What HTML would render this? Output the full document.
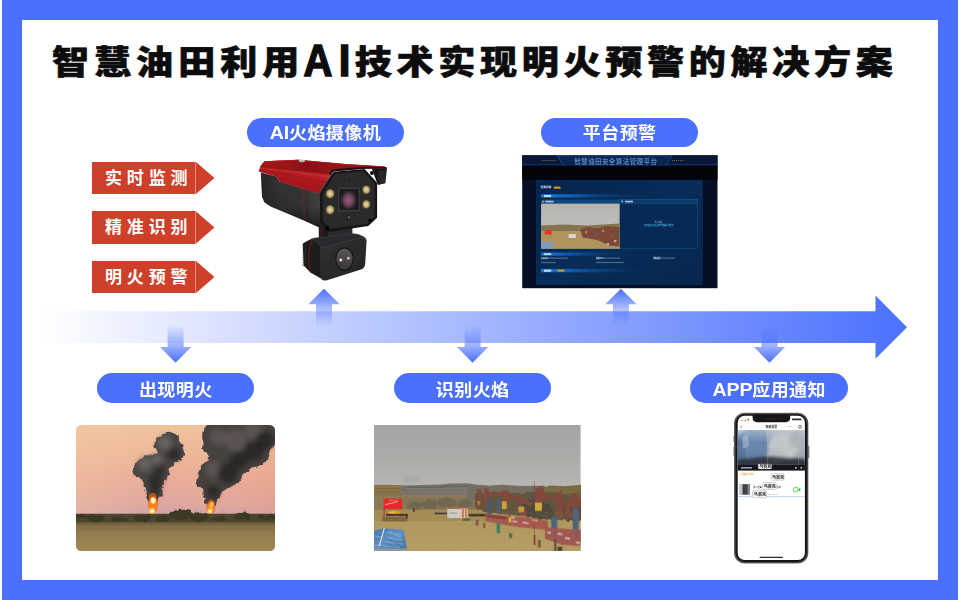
<!DOCTYPE html>
<html lang="zh-CN">
<head>
<meta charset="utf-8">
<title>智慧油田利用AI技术实现明火预警的解决方案</title>
<style>
html,body{margin:0;padding:0;}
body{width:960px;height:600px;position:relative;overflow:hidden;background:#fff;font-family:"Liberation Sans","Noto Sans CJK SC",sans-serif;}
.frame{position:absolute;left:2px;top:0;width:956px;height:600px;background:#4b70fe;}
.inner{position:absolute;left:21.5px;top:20px;width:916.5px;height:560px;background:#fff;}
svg{position:absolute;display:block;overflow:hidden;}
.title{left:0;top:0;}
.title text{font-family:"Liberation Sans","Noto Sans CJK SC",sans-serif;font-weight:900;font-size:36px;fill:#0c0c0c;stroke:#0c0c0c;stroke-width:0.7px;stroke-linejoin:miter;}
.title text.lat{font-size:46.5px;font-weight:700;stroke:#0c0c0c;stroke-width:1.6px;}
.pill{position:absolute;width:157.5px;height:29.5px;border-radius:15px;background:#4b70fe;color:#fff;font-weight:700;font-size:18px;line-height:29.5px;text-align:center;white-space:nowrap;letter-spacing:0.4px;}
.pill span{display:inline-block;transform:scaleY(0.95);position:relative;top:1px;padding-left:0.4px;}
.pill b{font-size:19.6px;letter-spacing:-0.2px;line-height:0;}
.pill.lo span{top:2.5px;}
.tag{position:absolute;left:92.3px;width:122.2px;height:32.5px;}
.tag .b{position:absolute;left:0;top:0;width:103.5px;height:32.5px;background:#cf402a;}
.tag i{position:absolute;left:103.1px;top:0;width:0.7px;height:32.5px;background:rgba(255,255,255,0.42);}
.tag .a{position:absolute;left:103.4px;top:0;width:18.8px;height:32.5px;background:#cf402a;clip-path:polygon(0 0,100% 50%,0 100%);}
.tag span{position:absolute;left:12.6px;top:1.1px;line-height:32.5px;font-size:17px;font-weight:700;color:#fff;letter-spacing:4.9px;white-space:nowrap;}
</style>
</head>
<body>
<div class="frame"></div>
<div class="inner"></div>

<!-- TITLE -->
<svg class="title" width="960" height="100" viewBox="0 0 960 100">
<g transform="scale(1.03,0.93)">
<text y="79.57" x="50.49 91.32 132.16 172.99 213.83 254.66">智慧油田利用</text>
<text y="79.57" x="344.47 385.00 425.53 466.07 506.60 547.14 587.67 628.20 668.74 709.27 749.81 790.34 830.87">技术实现明火预警的解决方案</text>
</g>
<text class="lat" transform="translate(303.6,76.2) scale(0.86,0.97)">A</text>
<text class="lat" transform="translate(338.8,76.2) scale(0.9,0.97)">I</text>
</svg>

<!-- TAGS -->
<div class="tag" style="top:161.8px"><div class="b"></div><div class="a"></div><i></i><span>实时监测</span></div>
<div class="tag" style="top:211.2px"><div class="b"></div><div class="a"></div><i></i><span>精准识别</span></div>
<div class="tag" style="top:260.7px"><div class="b"></div><div class="a"></div><i></i><span>明火预警</span></div>

<!-- PILLS -->
<div class="pill" style="left:246.5px;top:117.7px"><span><b>AI</b>火焰摄像机</span></div>
<div class="pill" style="left:540.7px;top:117.7px"><span>平台预警</span></div>
<div class="pill lo" style="left:96.8px;top:373.4px"><span>出现明火</span></div>
<div class="pill lo" style="left:393.7px;top:373.4px"><span>识别火焰</span></div>
<div class="pill lo" style="left:690.3px;top:373.4px"><span><b>APP</b>应用通知</span></div>

<!-- BIG ARROW -->
<svg id="arrow" style="left:0;top:280px" width="960" height="90" viewBox="0 280 960 90">
<defs>
<linearGradient id="gband" x1="40" y1="0" x2="907" y2="0" gradientUnits="userSpaceOnUse">
<stop offset="0" stop-color="#4b70fe" stop-opacity="0"/>
<stop offset="1" stop-color="#4b70fe" stop-opacity="1"/>
</linearGradient>
<linearGradient id="gup" x1="0" y1="288.7" x2="0" y2="326" gradientUnits="userSpaceOnUse">
<stop offset="0" stop-color="#4b70fe" stop-opacity="1"/>
<stop offset="1" stop-color="#4b70fe" stop-opacity="0"/>
</linearGradient>
<linearGradient id="gdn" x1="0" y1="362.7" x2="0" y2="325" gradientUnits="userSpaceOnUse">
<stop offset="0" stop-color="#4b70fe" stop-opacity="1"/>
<stop offset="1" stop-color="#4b70fe" stop-opacity="0"/>
</linearGradient>
</defs>
<path d="M40 311.3 H875.5 V295.5 L907 327.2 L875.5 358.8 V343 H40 Z" fill="url(#gband)"/>
<path id="up" d="M324 288.7 L339.8 304.3 H332 V326 H316 V304.3 H308.2 Z" fill="url(#gup)"/>
<path d="M620.9 288.7 L636.7 304.3 H628.9 V326 H612.9 V304.3 H605.1 Z" fill="url(#gup)"/>
<path d="M175.6 362.7 L191.2 347 H183.6 V325 H167.6 V347 H160 Z" fill="url(#gdn)"/>
<path d="M472.6 362.7 L488.2 347 H480.6 V325 H464.6 V347 H457 Z" fill="url(#gdn)"/>
<path d="M769.5 362.7 L785.1 347 H777.5 V325 H761.5 V347 H753.9 Z" fill="url(#gdn)"/>
</svg>


<!-- cam.py -->
<svg id="camera" style="left:250px;top:150px" width="150" height="140" viewBox="250 150 150 140">
<defs>
<linearGradient id="credtop" x1="260" y1="160" x2="385" y2="175" gradientUnits="userSpaceOnUse">
<stop offset="0" stop-color="#a8171b"/><stop offset="0.35" stop-color="#8c1115"/><stop offset="1" stop-color="#9c1418"/>
</linearGradient>
<linearGradient id="credside" x1="290" y1="166" x2="284" y2="192" gradientUnits="userSpaceOnUse">
<stop offset="0" stop-color="#c52a2e"/><stop offset="0.3" stop-color="#b01b1f"/><stop offset="1" stop-color="#98141a"/>
</linearGradient>
<linearGradient id="cbody" x1="260" y1="0" x2="322" y2="0" gradientUnits="userSpaceOnUse">
<stop offset="0" stop-color="#272728"/><stop offset="0.3" stop-color="#323233"/><stop offset="0.78" stop-color="#363637"/><stop offset="0.8" stop-color="#3e3e3f"/><stop offset="1" stop-color="#434344"/>
</linearGradient>
<linearGradient id="cbodyv" x1="0" y1="175" x2="0" y2="228" gradientUnits="userSpaceOnUse">
<stop offset="0" stop-color="#000" stop-opacity="0"/><stop offset="0.6" stop-color="#000" stop-opacity="0.1"/><stop offset="1" stop-color="#000" stop-opacity="0.55"/>
</linearGradient>
<radialGradient id="clens" cx="0.5" cy="0.52" r="0.55">
<stop offset="0" stop-color="#94607f"/><stop offset="0.45" stop-color="#734460"/><stop offset="0.8" stop-color="#35252f"/><stop offset="1" stop-color="#1b171d"/>
</radialGradient>
<radialGradient id="cled" cx="0.5" cy="0.5" r="0.5">
<stop offset="0" stop-color="#f1e6b8"/><stop offset="0.4" stop-color="#d2be86"/><stop offset="0.75" stop-color="#b39f6a"/><stop offset="1" stop-color="#5e5236"/>
</radialGradient>
<linearGradient id="clow" x1="0" y1="0" x2="0" y2="1">
<stop offset="0" stop-color="#59595b"/><stop offset="1" stop-color="#37373a"/>
</linearGradient>
<linearGradient id="cmodf" x1="0" y1="0" x2="1" y2="1">
<stop offset="0" stop-color="#303031"/><stop offset="1" stop-color="#252526"/>
</linearGradient>
<filter id="cblur" x="-5%" y="-5%" width="110%" height="110%"><feGaussianBlur stdDeviation="0.4"/></filter>
</defs>
<g filter="url(#cblur)">
<polygon points="318.8,226 352.2,225.5 352.2,240 318.8,241" fill="#1b1b1c"/>
<polygon points="328,227 352.2,226.5 352.2,238.5 328,240.5" fill="#2a2a2b"/>
<line x1="321.2" y1="229" x2="321.5" y2="239" stroke="#a5161a" stroke-width="0.5"/>
<polygon points="302.8,243.5 308.5,240.5 310.5,272.5 303.6,265.5" fill="#151516"/>
<line x1="302.4" y1="244.5" x2="307" y2="246.1" stroke="#404041" stroke-width="0.7"/>
<line x1="302.4" y1="247.1" x2="307" y2="248.7" stroke="#404041" stroke-width="0.7"/>
<line x1="302.4" y1="249.6" x2="307" y2="251.2" stroke="#404041" stroke-width="0.7"/>
<line x1="302.4" y1="252.2" x2="307" y2="253.8" stroke="#404041" stroke-width="0.7"/>
<line x1="302.4" y1="254.7" x2="307" y2="256.3" stroke="#404041" stroke-width="0.7"/>
<line x1="302.4" y1="257.2" x2="307" y2="258.9" stroke="#404041" stroke-width="0.7"/>
<line x1="302.4" y1="259.8" x2="307" y2="261.4" stroke="#404041" stroke-width="0.7"/>
<line x1="302.4" y1="262.4" x2="307" y2="264.0" stroke="#404041" stroke-width="0.7"/>
<line x1="302.4" y1="264.9" x2="307" y2="266.5" stroke="#404041" stroke-width="0.7"/>
<polygon points="306.5,241.5 312.5,238.3 321.5,246.5 321,278.5 310,272.3 307.8,258" fill="#1c1c1d"/>
<path d="M312.5 238.3 L351 233.6 Q360 233.4 365.8 238.6 L323 248 L320 247 Z" fill="#2c2c2d"/>
<path d="M312.8 238.4 L351 233.8 Q359 233.6 364 237" stroke="#3c3c3d" stroke-width="0.5" fill="none"/>
<path d="M319.8 252 Q319.8 247.6 323.5 246.7 L361.5 237.3 Q366.4 236.4 366.6 241 L365.2 263.5 Q365 268.2 361 269.5 L327 280.3 Q321 281.8 320.5 276 Z" fill="url(#cmodf)"/>
<path d="M320.3 251 Q320.4 248 323.6 247.2 L361.5 237.8 Q364.6 237.2 365.6 239" stroke="#444445" stroke-width="0.5" fill="none"/>
<path d="M312.6 239 Q308.4 248 308.6 258 Q308.8 266 310.6 272" stroke="#b3171b" stroke-width="0.6" fill="none"/>
<ellipse cx="344.5" cy="259.0" rx="9.1" ry="11.5" fill="#0e0e0f"/>
<ellipse cx="344.5" cy="259.0" rx="8.2" ry="10.6" fill="url(#clow)"/>
<circle cx="340.8" cy="260.0" r="1.8" fill="#cfcfb4" opacity="0.6"/>
<circle cx="340.8" cy="260.0" r="1.0" fill="#fffff0"/>
<circle cx="348.4" cy="258.3" r="1.8" fill="#bf9e9a" opacity="0.6"/>
<circle cx="348.4" cy="258.3" r="1.0" fill="#f3d2cc"/>
<polygon points="260.8,172.5 276.5,176.5 279.5,181.5 318.0,193.0 331.0,174.0 345.0,172.0 350.0,228.5 321.5,228.5 304.5,220.8 285.0,212.5 270.5,206.5 264.5,202.5 262.0,197.0" fill="url(#cbody)"/>
<polygon points="260.8,172.5 276.5,176.5 279.5,181.5 318.0,193.0 331.0,174.0 345.0,172.0 350.0,228.5 321.5,228.5 304.5,220.8 285.0,212.5 270.5,206.5 264.5,202.5 262.0,197.0" fill="url(#cbodyv)"/>
<path d="M303.6 189 L304.3 220.6" stroke="#a01519" stroke-width="0.55"/>
<polygon points="371.7,168.3 387.0,168.1 385.3,183.3 377.9,185.1 373.7,173.7" fill="#19191a"/>
<polygon points="377.7,171.0 385.9,169.9 384.9,182.3 379.3,183.7" fill="#262627"/>
<polygon points="333.7,171.7 364.6,168.9 377.1,182.7 377.1,217.7 368.3,225.9 328.3,231.9 320.1,221.9 320.1,193.7" fill="#161617"/>
<polygon points="335.0,173.9 363.3,171.3 374.7,183.8 374.7,216.6 367.3,223.5 329.7,229.1 322.7,220.9 322.7,194.5" fill="#2b2b2c"/>
<polygon points="258.6,171.6 260.5,166.0 264.5,161.3 298.0,159.8 345.0,164.0 384.5,166.4 387.2,168.6 372.5,168.4 364.3,168.6 333.7,171.2 331.0,174.2 318.3,193.4 279.6,181.8 276.6,176.7" fill="url(#credside)"/>
<polygon points="260.5,166.0 264.5,161.3 298.0,159.8 345.0,164.0 384.5,166.4 387.2,168.6 372.5,168.4 364.3,168.6 333.7,171.2 330.6,174.2 300.0,170.6" fill="url(#credtop)"/>
<polygon points="330.2,175 333.4,171.4 364.3,168.8 387.2,168.8 386.6,166.9 364.3,166.7 332.6,169.2 328.8,173.6" fill="#151213" opacity="0.9"/>
<path d="M260.6 166.2 L300 170.8 L330.4 174.6" stroke="#6e0c10" stroke-width="0.7" fill="none" opacity="0.8"/>
<path d="M260 168 L300 173 L329.4 176.6" stroke="#d23a3e" stroke-width="0.7" fill="none" opacity="0.7"/>
<path d="M259.4 170 L290 175.4 L326 182.4" stroke="#8a1116" stroke-width="0.6" fill="none" opacity="0.6"/>
<path d="M264.5 161.6 L298 160.2 L345 164.4 L384 166.8" stroke="#c0282c" stroke-width="0.6" fill="none" opacity="0.7"/>
<ellipse cx="301.8" cy="161.1" rx="3.4" ry="1.4" fill="#9a9a9a"/>
<ellipse cx="301.8" cy="160.7" rx="2.8" ry="0.9" fill="#c4c4c4"/>
<rect x="337.9" y="187.4" width="22.1" height="24.1" rx="1" fill="#3a3a3c"/>
<rect x="339.4" y="188.9" width="19.3" height="21.2" rx="0.8" fill="#1c1a20"/>
<ellipse cx="348.6" cy="199.7" rx="8.2" ry="9.6" fill="url(#clens)"/>
<ellipse cx="330.1" cy="193.7" rx="4.8" ry="5.2" fill="#3e3828"/>
<ellipse cx="330.1" cy="193.7" rx="4.2" ry="4.6" fill="url(#cled)"/>
<ellipse cx="330.1" cy="209.7" rx="4.8" ry="5.2" fill="#3e3828"/>
<ellipse cx="330.1" cy="209.7" rx="4.2" ry="4.6" fill="url(#cled)"/>
<ellipse cx="366.3" cy="189.7" rx="4.4" ry="4.8" fill="#3e3828"/>
<ellipse cx="366.3" cy="189.7" rx="3.8" ry="4.2" fill="url(#cled)"/>
<ellipse cx="366.3" cy="204.3" rx="4.4" ry="4.8" fill="#3e3828"/>
<ellipse cx="366.3" cy="204.3" rx="3.8" ry="4.2" fill="url(#cled)"/>
<circle cx="348.6" cy="217.4" r="2.3" fill="#111"/>
<circle cx="348.9" cy="217.2" r="1.5" fill="#5a5a5c"/>
<circle cx="349.4" cy="180.7" r="0.7" fill="#050505"/>
<circle cx="327.3" cy="227.7" r="1.9" fill="#060606"/>
<circle cx="370.3" cy="220.3" r="1.9" fill="#060606"/>
<circle cx="371.9" cy="173.0" r="1.9" fill="#060606"/>
<circle cx="327.1" cy="228.4" r="1.9" fill="#060606"/>
</g></svg>

<!-- fire.py -->
<svg id="firephoto" style="left:75.9px;top:425.2px" width="199" height="126" viewBox="45 42 823 521" preserveAspectRatio="none">
<defs>
<clipPath id="fclip"><rect x="45" y="42" width="823" height="521" rx="22" ry="22"/></clipPath>
<linearGradient id="fsky" x1="0" y1="42" x2="0" y2="415" gradientUnits="userSpaceOnUse">
<stop offset="0" stop-color="#efc39c"/><stop offset="0.3" stop-color="#eeb898"/><stop offset="0.62" stop-color="#e9ab98"/><stop offset="0.85" stop-color="#dfa6a0"/><stop offset="1" stop-color="#d2a2a8"/>
</linearGradient>
<linearGradient id="fskyr" x1="45" y1="0" x2="868" y2="0" gradientUnits="userSpaceOnUse">
<stop offset="0" stop-color="#f3cfa8" stop-opacity="0.35"/><stop offset="0.45" stop-color="#f3cfa8" stop-opacity="0"/><stop offset="1" stop-color="#e89a80" stop-opacity="0.3"/>
</linearGradient>
<linearGradient id="fgnd" x1="0" y1="440" x2="0" y2="563" gradientUnits="userSpaceOnUse">
<stop offset="0" stop-color="#776540"/><stop offset="0.35" stop-color="#8f7a4c"/><stop offset="1" stop-color="#a08757"/>
</linearGradient>
<radialGradient id="ffire" cx="0.5" cy="0.5" r="0.5">
<stop offset="0" stop-color="#ffe27a"/><stop offset="0.4" stop-color="#ffa21f"/><stop offset="0.8" stop-color="#ef6a14"/><stop offset="1" stop-color="#c9481a" stop-opacity="0.5"/>
</radialGradient>
<filter id="fb2" x="-10%" y="-10%" width="120%" height="120%"><feGaussianBlur stdDeviation="2.4"/></filter>
<filter id="fb3" x="-20%" y="-20%" width="140%" height="140%"><feGaussianBlur stdDeviation="14"/></filter>
<filter id="fsm" x="-10%" y="-10%" width="120%" height="120%">
<feTurbulence type="fractalNoise" baseFrequency="0.03" numOctaves="3" seed="11" result="n"/>
<feDisplacementMap in="SourceGraphic" in2="n" scale="26" xChannelSelector="R" yChannelSelector="G"/>
<feGaussianBlur stdDeviation="3.2"/>
</filter>
<filter id="ftree" x="-5%" y="-30%" width="110%" height="160%">
<feTurbulence type="fractalNoise" baseFrequency="0.05" numOctaves="2" seed="3" result="n"/>
<feDisplacementMap in="SourceGraphic" in2="n" scale="18" xChannelSelector="R" yChannelSelector="G"/>
<feGaussianBlur stdDeviation="2"/>
</filter>
</defs>
<g clip-path="url(#fclip)">
<rect x="45" y="42" width="823" height="521" fill="url(#fsky)"/>
<rect x="45" y="42" width="823" height="400" fill="url(#fskyr)"/>
<g transform="translate(248.2,20.7) scale(0.7586)">
<g filter="url(#fsm)">
<ellipse cx="242" cy="150" rx="70" ry="70" fill="#4b4644" />
<ellipse cx="205" cy="130" rx="46" ry="46" fill="#4b4644" />
<ellipse cx="272" cy="180" rx="50" ry="50" fill="#4b4644" />
<ellipse cx="215" cy="215" rx="56" ry="56" fill="#4b4644" />
<ellipse cx="122" cy="268" rx="70" ry="70" fill="#4b4644" />
<ellipse cx="165" cy="240" rx="56" ry="56" fill="#4b4644" />
<ellipse cx="88" cy="280" rx="42" ry="42" fill="#4b4644" />
<ellipse cx="152" cy="325" rx="60" ry="60" fill="#4b4644" />
<ellipse cx="190" cy="290" rx="50" ry="50" fill="#4b4644" />
<ellipse cx="160" cy="385" rx="48" ry="48" fill="#4b4644" />
<ellipse cx="152" cy="420" rx="34" ry="34" fill="#4b4644" />
<ellipse cx="235" cy="110" rx="45" ry="45" fill="#4b4644" />
<ellipse cx="505" cy="90" rx="85" ry="85" fill="#474240" />
<ellipse cx="600" cy="70" rx="105" ry="105" fill="#474240" />
<ellipse cx="720" cy="90" rx="100" ry="100" fill="#474240" />
<ellipse cx="790" cy="70" rx="65" ry="65" fill="#474240" />
<ellipse cx="705" cy="175" rx="82" ry="82" fill="#474240" />
<ellipse cx="625" cy="200" rx="92" ry="92" fill="#474240" />
<ellipse cx="548" cy="210" rx="92" ry="92" fill="#474240" />
<ellipse cx="482" cy="140" rx="62" ry="62" fill="#474240" />
<ellipse cx="502" cy="300" rx="96" ry="96" fill="#474240" />
<ellipse cx="440" cy="330" rx="52" ry="52" fill="#474240" />
<ellipse cx="568" cy="290" rx="72" ry="72" fill="#474240" />
<ellipse cx="472" cy="392" rx="52" ry="52" fill="#474240" />
<ellipse cx="468" cy="440" rx="34" ry="34" fill="#474240" />
</g>
<g filter="url(#fb3)">
<ellipse cx="215" cy="125" rx="38" ry="38" fill="#726c68" opacity="0.8"/>
<ellipse cx="105" cy="240" rx="36" ry="36" fill="#726c68" opacity="0.8"/>
<ellipse cx="170" cy="215" rx="30" ry="30" fill="#726c68" opacity="0.8"/>
<ellipse cx="505" cy="95" rx="45" ry="45" fill="#635d5a" opacity="0.7"/>
<ellipse cx="600" cy="110" rx="60" ry="60" fill="#635d5a" opacity="0.7"/>
<ellipse cx="480" cy="270" rx="45" ry="45" fill="#635d5a" opacity="0.7"/>
<ellipse cx="700" cy="60" rx="50" ry="50" fill="#635d5a" opacity="0.7"/>
<ellipse cx="265" cy="185" rx="38" ry="38" fill="#262323" opacity="0.75"/>
<ellipse cx="165" cy="330" rx="40" ry="40" fill="#262323" opacity="0.75"/>
<ellipse cx="190" cy="270" rx="30" ry="30" fill="#262323" opacity="0.75"/>
<ellipse cx="160" cy="385" rx="30" ry="30" fill="#262323" opacity="0.75"/>
<ellipse cx="700" cy="170" rx="55" ry="55" fill="#242121" opacity="0.8"/>
<ellipse cx="560" cy="290" rx="55" ry="55" fill="#242121" opacity="0.8"/>
<ellipse cx="480" cy="390" rx="35" ry="35" fill="#242121" opacity="0.8"/>
<ellipse cx="760" cy="110" rx="50" ry="50" fill="#242121" opacity="0.8"/>
<ellipse cx="620" cy="220" rx="50" ry="50" fill="#242121" opacity="0.8"/>
</g>
<!-- fire -->
<g filter="url(#fb2)">
<ellipse cx="150" cy="420" rx="20" ry="22" fill="#d9601a" opacity="0.75"/>
<ellipse cx="152" cy="458" rx="27" ry="48" fill="url(#ffire)"/>
<ellipse cx="140" cy="470" rx="14" ry="24" fill="#f4801c"/>
<ellipse cx="164" cy="462" rx="12" ry="22" fill="#f4801c"/>
<ellipse cx="153" cy="440" rx="14" ry="17" fill="#fff0a0"/>
<ellipse cx="153" cy="440" rx="7" ry="9" fill="#fffbe0"/>
<ellipse cx="147" cy="497" rx="17" ry="17" fill="#ffcf52"/>
<ellipse cx="147" cy="498" rx="9" ry="9" fill="#fff7cc"/>
<ellipse cx="468" cy="448" rx="14" ry="14" fill="#d05a1c" opacity="0.7"/>
<ellipse cx="466" cy="478" rx="24" ry="38" fill="url(#ffire)"/>
<ellipse cx="474" cy="458" rx="11" ry="13" fill="#ffbe3e"/>
<ellipse cx="456" cy="480" rx="10" ry="14" fill="#f98a20"/>
<ellipse cx="463" cy="498" rx="14" ry="13" fill="#ffd45e"/>
<ellipse cx="463" cy="499" rx="7" ry="7" fill="#fff3b8"/>
</g>
</g>
<!-- ground -->
<rect x="45" y="412" width="823" height="155" fill="url(#fgnd)"/>
<!-- far dark band -->
<rect x="40" y="409" width="833" height="36" fill="#4a442f" filter="url(#fb2)"/>
<!-- towers -->
<g stroke="#8d7f86" stroke-width="1.6" opacity="0.8">
<path d="M300 392v18M318 396v14M540 392v18M560 396v14M650 388v22M690 392v18M740 384v26M770 392v18M830 386v24M850 394v16M275 396v14"/>
</g>
<!-- treeline -->
<g filter="url(#ftree)" fill="#3a3727">
<ellipse cx="483" cy="412" rx="50" ry="20"/>
<ellipse cx="555" cy="422" rx="38" ry="19"/>
<ellipse cx="320" cy="428" rx="34" ry="15"/>
<ellipse cx="735" cy="420" rx="36" ry="16"/>
<ellipse cx="125" cy="428" rx="42" ry="14"/>
<ellipse cx="405" cy="430" rx="30" ry="14"/>
<ellipse cx="835" cy="424" rx="36" ry="11"/>
<ellipse cx="225" cy="430" rx="36" ry="10"/>
<ellipse cx="640" cy="430" rx="30" ry="10"/>
<ellipse cx="70" cy="420" rx="30" ry="10"/>
</g>
<rect x="45" y="444" width="823" height="12" fill="#6a5b3a" opacity="0.55" filter="url(#fb2)"/>
<rect x="45" y="470" width="823" height="6" fill="#7d6a42" opacity="0.4" filter="url(#fb2)"/>
</g>
</svg>

<!-- mid.py -->
<svg id="midphoto" style="left:374.2px;top:425.1px" width="206.6" height="126.4" viewBox="38 42 855 523" preserveAspectRatio="none">
<defs>
<linearGradient id="msky" x1="0" y1="42" x2="0" y2="300" gradientUnits="userSpaceOnUse">
<stop offset="0" stop-color="#a4a4a2"/><stop offset="0.5" stop-color="#ababa9"/><stop offset="1" stop-color="#b7b6b3"/>
</linearGradient>
<linearGradient id="mgnd" x1="0" y1="380" x2="0" y2="565" gradientUnits="userSpaceOnUse">
<stop offset="0" stop-color="#b0965b"/><stop offset="1" stop-color="#b89f66"/>
</linearGradient>
<linearGradient id="mroof" x1="0" y1="0" x2="1" y2="1">
<stop offset="0" stop-color="#3f78b6"/><stop offset="0.5" stop-color="#5b92cc"/><stop offset="1" stop-color="#3c6fa8"/>
</linearGradient>
<filter id="mb1" x="-5%" y="-5%" width="110%" height="110%"><feGaussianBlur stdDeviation="2.2"/></filter>
<filter id="mb8" x="-5%" y="-5%" width="110%" height="110%"><feGaussianBlur stdDeviation="4"/></filter>
<filter id="mr8" x="-5%" y="-5%" width="110%" height="110%">
<feTurbulence type="fractalNoise" baseFrequency="0.04" numOctaves="2" seed="7" result="n"/>
<feDisplacementMap in="SourceGraphic" in2="n" scale="30" xChannelSelector="R" yChannelSelector="G"/>
<feGaussianBlur stdDeviation="4"/>
</filter>
<filter id="mgrain" x="0" y="0" width="100%" height="100%">
<feTurbulence type="fractalNoise" baseFrequency="0.12 0.25" numOctaves="2" seed="5" result="n"/>
<feColorMatrix in="n" type="matrix" values="0 0 0 0 0.35  0 0 0 0 0.27  0 0 0 0 0.12  0.9 0.9 0 0 -0.78"/>
</filter>
</defs>
<rect x="38" y="42" width="855" height="523" fill="url(#msky)"/>
<ellipse cx="190" cy="268" rx="40" ry="16" fill="#989896" opacity="0.35" filter="url(#mb8)"/>
<!-- ground base -->
<rect x="38" y="330" width="855" height="240" fill="url(#mgnd)"/>

<!-- LEFT HALF (zoom8 coords, origin 370,480) -->
<g transform="translate(20.7,269) scale(0.5174)">
<g filter="url(#mb8)">
<polygon points="20,42 150,40 260,44 260,135 20,135" fill="#8b7449"/>
<polygon points="250,46 420,42 560,38 640,30 780,28 860,40 940,44 940,125 250,125" fill="#77716a"/>
<polygon points="20,120 940,120 940,245 20,245" fill="#8a7a59"/>
<polygon points="260,150 840,140 860,240 300,245" fill="#82755a"/>
<polygon points="20,240 940,240 940,330 20,330" fill="#a58c55"/>
<path d="M40 70h200M60 95h180M40 118h210" stroke="#6d5a38" stroke-width="7" opacity="0.6"/>
<path d="M280 70h600M330 92h520M420 112h440" stroke="#8b857c" stroke-width="6" opacity="0.6"/>
<path d="M300 60h300M560 50h300" stroke="#55504b" stroke-width="7" opacity="0.6"/>
</g>
<g filter="url(#mr8)" fill="#6e6450" opacity="0.8">
<ellipse cx="480" cy="195" rx="70" ry="40"/><ellipse cx="620" cy="185" rx="80" ry="40"/><ellipse cx="360" cy="205" rx="60" ry="30"/><ellipse cx="760" cy="190" rx="60" ry="35"/>
</g>
<g filter="url(#mb8)">
<!-- sign -->
<rect x="110" y="150" width="148" height="84" fill="#e32a27"/>
<path d="M125 200c8-16 14 6 22-8 8-14 10 10 18-4 6-10 12 8 20-6 8-12 12 10 20-4 6-10 12 6 20-8" stroke="#fbd3cf" stroke-width="7" fill="none"/>
<path d="M150 164h70" stroke="#f58f88" stroke-width="5"/>
<rect x="108" y="232" width="12" height="62" fill="#d2352c"/>
<ellipse cx="195" cy="262" rx="48" ry="16" fill="#f09a2a"/>
<ellipse cx="180" cy="262" rx="20" ry="9" fill="#f7c04a"/>
<rect x="130" y="272" width="175" height="16" fill="#3d312a"/>
<rect x="100" y="292" width="200" height="42" fill="#8a6f48"/>
<path d="M100 305h200M100 322h200" stroke="#6a5434" stroke-width="6"/>
<rect x="290" y="280" width="12" height="30" fill="#3d312a"/>
<rect x="345" y="228" width="14" height="30" fill="#4a3f38"/>
<!-- container -->
<rect x="520" y="262" width="100" height="13" fill="#3a3129"/>
<rect x="790" y="275" width="150" height="14" fill="#3a3129"/>
<rect x="620" y="226" width="162" height="80" fill="#cfd0cb"/>
<rect x="620" y="222" width="162" height="12" fill="#b86850"/>
<rect x="722" y="230" width="58" height="74" fill="#d8c9a8"/>
<rect x="740" y="232" width="10" height="70" fill="#c9503c"/>
<rect x="764" y="232" width="10" height="70" fill="#c9503c"/>
<rect x="640" y="262" width="60" height="8" fill="#9aa3b0"/>
<ellipse cx="772" cy="318" rx="34" ry="12" fill="#5c6a40"/>
<rect x="850" y="322" width="16" height="40" fill="#7a4a40"/>
<!-- blue roof -->
<polygon points="20,408 112,388 272,400 296,546 270,562 20,562" fill="url(#mroof)"/>
<path d="M130 420l120 20M40 450l220 30M60 490l210 24M40 520l200 20M150 405l100 60" stroke="#8fb8e6" stroke-width="9" opacity="0.55"/>
<path d="M60 430l180 90M40 470l160 70" stroke="#2f5f98" stroke-width="8" opacity="0.5"/>
<polygon points="20,548 290,548 270,566 20,566" fill="#8e98a6"/>
<line x1="116" y1="386" x2="76" y2="528" stroke="#e4ecf4" stroke-width="9"/>
</g>
</g>

<!-- RIGHT HALF (zoom8 coords, origin 470,480) -->
<g transform="translate(434.6,269) scale(0.5174)">
<g filter="url(#mb8)">
<polygon points="-20,44 120,50 250,40 420,50 600,48 600,160 -20,160" fill="#746d63"/>
<polygon points="590,62 640,46 760,52 890,40 890,150 590,150" fill="#786a42"/>
<polygon points="600,130 890,100 890,240 600,240" fill="#6e5f3e"/>
</g>
<!-- dark vegetation behind jacks -->
<g filter="url(#mr8)">
<polygon points="40,110 200,95 420,110 520,90 740,110 890,170 890,330 620,320 420,290 120,260 40,220" fill="#625440"/>
<polygon points="420,180 520,150 640,200 690,300 560,320 440,280" fill="#4f4a3a"/>
<polygon points="740,230 890,200 890,330 760,330" fill="#5c4a40"/>
</g>
<!-- pumpjacks -->
<g filter="url(#mr8)" fill="#84483a" opacity="0.92">
<rect x="55" y="72" width="34" height="150"/>
<rect x="112" y="68" width="40" height="160"/>
<polygon points="150,110 260,92 330,110 330,140 250,128 150,140"/>
<polygon points="250,88 300,84 320,200 262,210"/>
<polygon points="320,120 420,140 500,185 490,215 400,180 320,150"/>
<polygon points="522,70 580,52 596,110 575,250 520,250"/>
<polygon points="580,110 700,135 745,160 740,190 690,170 580,150"/>
<polygon points="690,95 740,84 748,300 700,300"/>
<polygon points="745,165 885,175 885,215 760,205"/>
<polygon points="760,190 800,190 820,300 770,300"/>
<polygon points="800,120 850,110 870,240 820,250"/>
<polygon points="830,150 890,140 890,180 840,190"/>
<polygon points="380,210 440,220 460,290 400,290"/>
</g>
<g filter="url(#mb8)">
<!-- yellow counterweights -->
<rect x="256" y="172" width="38" height="62" fill="#c9a83a"/>
<rect x="388" y="214" width="46" height="44" fill="#c4a03a"/>
<rect x="520" y="182" width="56" height="66" fill="#ccaa38"/>
<rect x="62" y="170" width="20" height="30" fill="#c9a440" opacity="0.7"/>
<!-- blue verticals -->
<rect x="140" y="150" width="34" height="140" fill="#465a6c"/>
<rect x="214" y="160" width="30" height="100" fill="#4c6074"/>
<rect x="650" y="300" width="50" height="160" fill="#4a6484"/>
<rect x="822" y="228" width="48" height="170" fill="#4a627c"/>
<rect x="840" y="400" width="45" height="90" fill="#4a5a70"/>
<!-- red/white fence -->
<polygon points="125,270 330,290 520,305 625,330 625,400 500,390 330,370 125,330" fill="#a5504c" opacity="0.9"/>
<polygon points="600,380 885,400 885,530 740,520 600,470" fill="#9c5050" opacity="0.9"/>
<path d="M340 330l40 6M420 340l50 8M500 320l40 6M330 300l30 4" stroke="#e6d2cc" stroke-width="13" opacity="0.85"/>
<path d="M700 430l40 4M760 465l40 6M850 500l30 4M620 420l30 4" stroke="#e6d2cc" stroke-width="14" opacity="0.85"/>
<path d="M140 290l150 16" stroke="#7c3a3a" stroke-width="22"/>
<rect x="0" y="275" width="120" height="16" fill="#3a3129"/>
<!-- people & pole -->
<rect x="312" y="300" width="18" height="40" fill="#d8c83c"/>
<rect x="214" y="342" width="28" height="86" fill="#3f7a58"/>
<rect x="314" y="426" width="24" height="38" fill="#3f6a50"/>
<rect x="46" y="322" width="22" height="44" fill="#8a5048"/>
<rect x="104" y="345" width="20" height="40" fill="#8a5a4a"/>
<rect x="512" y="10" width="7" height="512" fill="#5a4038" opacity="0.5"/>
<rect x="511" y="440" width="12" height="80" fill="#7a2f2a"/>
<rect x="545" y="480" width="22" height="60" fill="#6a5a3a"/>
<rect x="676" y="470" width="14" height="100" fill="#4a3a34"/>
<rect x="700" y="535" width="40" height="36" fill="#4a3f3a"/>
</g>
</g>
<!-- ground texture -->
<rect x="38" y="400" width="855" height="165" filter="url(#mgrain)" opacity="0.6"/>
</svg>

<!-- phone.py -->
<svg id="phone" style="left:725px;top:405px" width="100" height="175" viewBox="725 405 100 175">
<defs>
<linearGradient id="phf" x1="0" y1="0" x2="1" y2="0">
<stop offset="0" stop-color="#8c8c8a"/><stop offset="0.03" stop-color="#555553"/><stop offset="0.06" stop-color="#2a2a2a"/><stop offset="0.94" stop-color="#2a2a2a"/><stop offset="0.97" stop-color="#555553"/><stop offset="1" stop-color="#8c8c8a"/>
</linearGradient>
<linearGradient id="phv" x1="0" y1="0" x2="1" y2="0">
<stop offset="0" stop-color="#9aabc4"/><stop offset="0.2" stop-color="#7c96b8"/><stop offset="0.42" stop-color="#879cb8"/><stop offset="0.55" stop-color="#a4abb4"/><stop offset="0.8" stop-color="#b2b8be"/><stop offset="1" stop-color="#a4adb8"/>
</linearGradient>
<linearGradient id="phvd" x1="0" y1="0" x2="0" y2="1">
<stop offset="0" stop-color="#c9d3e0" stop-opacity="0.55"/><stop offset="0.35" stop-color="#c9d3e0" stop-opacity="0"/><stop offset="0.8" stop-color="#20262e" stop-opacity="0.1"/><stop offset="1" stop-color="#20262e" stop-opacity="0.75"/>
</linearGradient>
<filter id="phb"><feGaussianBlur stdDeviation="0.45"/></filter>
<filter id="phb2"><feGaussianBlur stdDeviation="1.6"/></filter>
<clipPath id="phclip"><rect x="737.7" y="415.8" width="67.2" height="144.2" rx="7"/></clipPath>
</defs>
<g filter="url(#phb)">
<rect x="734" y="412.7" width="74.4" height="150.8" rx="10.6" fill="#6e6e6c"/>
<rect x="734.5" y="413.2" width="73.4" height="149.8" rx="10.2" fill="#4a4a49"/>
<rect x="735.6" y="414.2" width="71.2" height="147.8" rx="9.2" fill="#151515"/>
<rect x="737.7" y="415.8" width="67.2" height="144.2" rx="7" fill="#ffffff"/>
<g clip-path="url(#phclip)">
<!-- video -->
<rect x="737.6" y="430.2" width="67.6" height="35" fill="url(#phv)"/>
<polygon points="737.6,434 748,430.2 766,430.2 768,458 737.6,463" fill="#5f7da6" opacity="0.7"/>
<polygon points="737.6,438 744,434 746,462 737.6,464" fill="#4a688f" opacity="0.6"/>
<polygon points="742,437 748,434.5 749,446 743,449" fill="#9fb2cc" opacity="0.7"/>
<rect x="737.6" y="430.2" width="67.6" height="35" fill="url(#phvd)"/>
<g filter="url(#phb2)">
<ellipse cx="784" cy="446" rx="15" ry="13" fill="#c4c7ca" opacity="0.95"/>
<ellipse cx="776" cy="455" rx="9" ry="7" fill="#b9bcc0" opacity="0.9"/>
<ellipse cx="797" cy="440" rx="8" ry="9" fill="#aeb4ba" opacity="0.9"/>
<polygon points="737.6,460 770,456 805.2,459 805.2,466 737.6,466" fill="#2a3038" opacity="0.85"/>
</g>
<rect x="767.6" y="430.6" width="30.8" height="34.4" fill="none" stroke="#c9c98a" stroke-width="0.3" opacity="0.8"/>
<!-- video toolbar -->
<rect x="737.6" y="465" width="67.6" height="5.6" fill="#16181c"/>
<rect x="741" y="467" width="11" height="1.6" fill="#9aa0a8"/>
<rect x="795" y="467" width="1.6" height="1.6" fill="#c8ccd2"/>
<rect x="800.5" y="467" width="1.6" height="1.6" fill="#c8ccd2"/>
<!-- list -->
<rect x="738" y="496" width="67" height="0.45" fill="#7da2d8"/>
<rect x="739.5" y="484" width="10.5" height="10.8" fill="#7d858c"/>
<rect x="743" y="484.5" width="4.5" height="10" fill="#3c4248"/>
<rect x="739.5" y="484" width="2.4" height="10.8" fill="#c7ccd2"/>
</g>
<!-- notch -->
<path d="M752.6 414.6 H790.2 V417.6 Q790.2 422.2 785.6 422.2 H757.2 Q752.6 422.2 752.6 417.6 Z" fill="#161616"/>
<rect x="766" y="418.2" width="10" height="1.2" rx="0.6" fill="#2d2d2d"/>
<circle cx="779.5" cy="418.8" r="0.9" fill="#1f2a44"/>
<!-- home bar -->
<rect x="759.6" y="556.8" width="23.4" height="1.2" rx="0.6" fill="#2a2a2a"/>
<!-- side buttons -->
<rect x="733.6" y="436" width="1" height="6" fill="#555"/>
<rect x="733.6" y="447" width="1" height="9" fill="#555"/>
<rect x="808.3" y="446" width="1" height="12" fill="#555"/>
</g>
<!-- status + nav -->
<g filter="url(#phb)">
<text x="741.3" y="420.6" font-family="Liberation Sans,Noto Sans CJK SC,sans-serif" font-size="2.4" font-weight="700" fill="#222">9:41</text>
<circle cx="748.2" cy="419.6" r="1.1" fill="#f36a1c"/>
<rect x="792" y="418.6" width="9.5" height="1.7" rx="0.5" fill="#333"/>
<text x="771.4" y="428.1" text-anchor="middle" font-family="Liberation Sans,Noto Sans CJK SC,sans-serif" font-size="2.9" font-weight="700" fill="#222">视频告警</text>
<path d="M741.8 425.6 L740.6 426.9 L741.8 428.2" fill="none" stroke="#222" stroke-width="0.5"/>
<text x="788.6" y="427.6" font-family="Liberation Sans,Noto Sans CJK SC,sans-serif" font-size="3" font-weight="700" fill="#222">···</text>
<circle cx="800" cy="426.8" r="1.5" fill="none" stroke="#222" stroke-width="0.6"/>
<text x="739.6" y="475.2" font-family="Liberation Sans,Noto Sans CJK SC,sans-serif" font-size="2.1" fill="#f08a2c">● 告警信息详情</text>
<text x="753.6" y="487.6" font-family="Liberation Sans,Noto Sans CJK SC,sans-serif" font-size="2.1" fill="#333">明火告警</text>
<text x="776.6" y="487.6" font-family="Liberation Sans,Noto Sans CJK SC,sans-serif" font-size="2.1" fill="#333">油田</text>
<text x="768" y="495.4" font-family="Liberation Sans,Noto Sans CJK SC,sans-serif" font-size="2" fill="#e08a7a">2023-07-04</text>
<!-- green camera icon -->
<rect x="793.6" y="487.6" width="4.4" height="4.2" rx="0.7" fill="none" stroke="#37d24a" stroke-width="0.8"/>
<polygon points="798.4,489 800.4,487.8 800.4,491.6 798.4,490.4" fill="#37d24a"/>
</g>
<!-- mosaic boxes -->
<g font-family="Liberation Sans,Noto Sans CJK SC,sans-serif" font-size="4.1" font-weight="700" fill="#1a1a1a" filter="url(#phb)">
<rect x="758.2" y="463.9" width="13.4" height="5" rx="0.8" fill="#fff" stroke="#8a8a8a" stroke-width="0.4"/>
<text x="759.2" y="468">马赛克</text>
<rect x="771.2" y="473.6" width="12.8" height="6.6" rx="1" fill="#fff" stroke="#8a8a8a" stroke-width="0.4"/>
<text x="771.9" y="478.5">马赛克</text>
<rect x="762.8" y="482.6" width="13.4" height="6.8" rx="1" fill="#fff" stroke="#8a8a8a" stroke-width="0.4"/>
<text x="763.7" y="487.6">马赛克</text>
<rect x="752.6" y="490.7" width="14" height="7" rx="1" fill="#fff" stroke="#8a8a8a" stroke-width="0.4"/>
<text x="753.8" y="495.8">马赛克</text>
</g>
</svg>

<!-- plat.py -->
<svg id="platform" style="left:515px;top:150px" width="210" height="145" viewBox="515 150 210 145">
<defs>
<linearGradient id="pdlg" x1="0" y1="0" x2="1" y2="1">
<stop offset="0" stop-color="#05244b"/><stop offset="0.5" stop-color="#072d58"/><stop offset="1" stop-color="#06264e"/>
</linearGradient>
<linearGradient id="pbar" x1="0" y1="0" x2="1" y2="0">
<stop offset="0" stop-color="#1d79d6"/><stop offset="0.25" stop-color="#145fb4"/><stop offset="1" stop-color="#0b3262" stop-opacity="0"/>
</linearGradient>
<linearGradient id="psky" x1="0" y1="0" x2="0" y2="1">
<stop offset="0" stop-color="#b6b5b1"/><stop offset="1" stop-color="#c4c2bd"/>
</linearGradient>
<filter id="pblur"><feGaussianBlur stdDeviation="0.4"/></filter>
</defs>
<rect x="522.2" y="155.3" width="195.3" height="132.9" fill="#040f26"/>
<rect x="522.2" y="155.3" width="195.3" height="10.6" fill="#071838"/>
<polygon points="557.3,155.8 672.1,155.8 664.8,167.4 564.5,167.4" fill="#0a2550" stroke="#2a6fc0" stroke-width="0.5"/>
<line x1="522.2" y1="164.5" x2="560.9" y2="164.5" stroke="#1a4f8f" stroke-width="0.5"/>
<line x1="668.5" y1="164.5" x2="717.5" y2="164.5" stroke="#1a4f8f" stroke-width="0.5"/>
<line x1="541.6" y1="160.6" x2="556.1" y2="160.6" stroke="#c99a3a" stroke-width="0.7" stroke-dasharray="1 1"/>
<line x1="672.1" y1="160.6" x2="684.2" y2="160.6" stroke="#c99a3a" stroke-width="0.7" stroke-dasharray="1 1"/>
<text x="615.8" y="164.0" text-anchor="middle" font-family="Liberation Sans,Noto Sans CJK SC,sans-serif" font-size="6.6" font-weight="700" letter-spacing="0.35" fill="#5585bc" filter="url(#pblur)">智慧油田安全算法管理平台</text>
<rect x="522.2" y="165.9" width="195.3" height="14.3" fill="#03050b"/>
<rect x="536.3" y="180.2" width="166.0" height="104.6" fill="url(#pdlg)" stroke="#0f3a6e" stroke-width="0.4"/>
<text x="540.6" y="188.4" font-family="Liberation Sans,Noto Sans CJK SC,sans-serif" font-size="2.6" font-weight="700" fill="#e8f0ff">告警详情</text>
<rect x="553.7" y="186.5" width="6.8" height="2.2" fill="#c8932a" rx="0.5"/>
<rect x="541.1" y="194.2" width="109.2" height="3.4" fill="url(#pbar)"/>
<rect x="544.0" y="194.9" width="7.2" height="2.2" fill="#d8e6ff" opacity="0.85"/>
<rect x="541.1" y="252.5" width="87.5" height="3.1" fill="url(#pbar)"/>
<rect x="544.0" y="253.2" width="7.2" height="1.9" fill="#d8e6ff" opacity="0.85"/>
<rect x="541.1" y="268.9" width="109.2" height="3.4" fill="url(#pbar)"/>
<rect x="544.0" y="269.6" width="7.2" height="2.2" fill="#d8e6ff" opacity="0.85"/>
<rect x="557.3" y="269.4" width="7.2" height="2.4" fill="#c8932a" rx="0.5"/>
<rect x="541.1" y="199.5" width="78.5" height="4.1" fill="#0e4a80"/>
<rect x="542.3" y="200.7" width="1.9" height="1.7" fill="#e0a030"/>
<rect x="545.4" y="200.7" width="8.2" height="1.7" fill="#cfe0ff" opacity="0.8"/>
<rect x="619.6" y="199.5" width="77.8" height="49.1" fill="#072a54" stroke="#2468a8" stroke-width="0.35"/>
<rect x="619.6" y="199.5" width="77.8" height="4.1" fill="#0b3a6e" stroke="#2468a8" stroke-width="0.35"/>
<rect x="621.3" y="200.7" width="1.9" height="1.4" fill="#7fd0ff"/>
<rect x="625.0" y="200.7" width="8.0" height="1.7" fill="#cfe0ff" opacity="0.8"/>
<text x="658.5" y="223.2" text-anchor="middle" font-family="Liberation Sans,Noto Sans CJK SC,sans-serif" font-size="1.9" fill="#69d2f5">暂无数据</text>
<text x="658.5" y="225.9" text-anchor="middle" font-family="Liberation Sans,Noto Sans CJK SC,sans-serif" font-size="1.9" fill="#69d2f5">点击左侧图片区域查看告警详细信息</text>
<g filter="url(#pblur)">
<rect x="541.1" y="203.6" width="78.5" height="44.9" fill="url(#psky)"/>
<polygon points="541.1,225.4 563.3,224.4 587.5,225.4 619.6,223.5 619.6,233.4 541.1,233.4" fill="#85754f"/>
<rect x="541.1" y="231.0" width="78.5" height="17.6" fill="#b0935c"/>
<polygon points="580.2,229.7 587.5,226.8 597.2,228.5 606.8,226.1 619.6,227.3 619.6,246.7 609.2,245.5 597.2,239.9 582.7,237.5" fill="#7c4a38"/>
<rect x="585.1" y="231.0" width="2.2" height="2.2" fill="#c9a83a" opacity="0.8"/>
<rect x="594.7" y="233.4" width="2.2" height="2.2" fill="#4a627c" opacity="0.8"/>
<rect x="602.0" y="229.7" width="2.2" height="2.2" fill="#c9a83a" opacity="0.8"/>
<rect x="610.5" y="234.6" width="2.2" height="2.2" fill="#b04a46" opacity="0.8"/>
<rect x="614.1" y="239.9" width="2.2" height="2.2" fill="#d8c8c4" opacity="0.8"/>
<rect x="587.5" y="235.8" width="2.2" height="2.2" fill="#4a627c" opacity="0.8"/>
<rect x="598.4" y="238.9" width="2.2" height="2.2" fill="#b04a46" opacity="0.8"/>
<rect x="606.8" y="243.0" width="2.2" height="2.2" fill="#d8c8c4" opacity="0.8"/>
<rect x="616.5" y="232.2" width="2.2" height="2.2" fill="#4a627c" opacity="0.8"/>
<rect x="591.1" y="227.8" width="2.2" height="2.2" fill="#a34a36" opacity="0.8"/>
<rect x="611.7" y="227.8" width="2.2" height="2.2" fill="#a34a36" opacity="0.8"/>
<rect x="544.7" y="230.2" width="7.0" height="4.3" fill="#e8342c"/>
<rect x="568.6" y="234.1" width="7.2" height="3.9" fill="#d9d9d4"/>
<rect x="541.1" y="241.8" width="12.1" height="6.8" fill="#8299c0"/>
</g>
<rect x="541.1" y="257.5" width="26.6" height="1.2" fill="#b9cdea" opacity="0.4"/>
<rect x="541.1" y="261.9" width="14.5" height="1.2" fill="#b9cdea" opacity="0.4"/>
<rect x="596.0" y="257.5" width="24.2" height="1.2" fill="#b9cdea" opacity="0.4"/>
<rect x="596.0" y="261.9" width="27.8" height="1.2" fill="#b9cdea" opacity="0.4"/>
<rect x="653.2" y="257.5" width="21.7" height="1.2" fill="#b9cdea" opacity="0.4"/>
<text x="541.1" y="259.0" font-family="Liberation Sans,Noto Sans CJK SC,sans-serif" font-size="1.8" fill="#dbe8ff" opacity="0.9">设备名称</text>
<text x="596.0" y="259.0" font-family="Liberation Sans,Noto Sans CJK SC,sans-serif" font-size="1.8" fill="#dbe8ff" opacity="0.9">告警时间</text>
<text x="653.2" y="259.0" font-family="Liberation Sans,Noto Sans CJK SC,sans-serif" font-size="1.8" fill="#dbe8ff" opacity="0.9">告警类型</text>
<text x="697.9" y="183.8" font-family="Liberation Sans,sans-serif" font-size="2.4" fill="#7fb0e8">×</text>
</svg>

</body>
</html>
